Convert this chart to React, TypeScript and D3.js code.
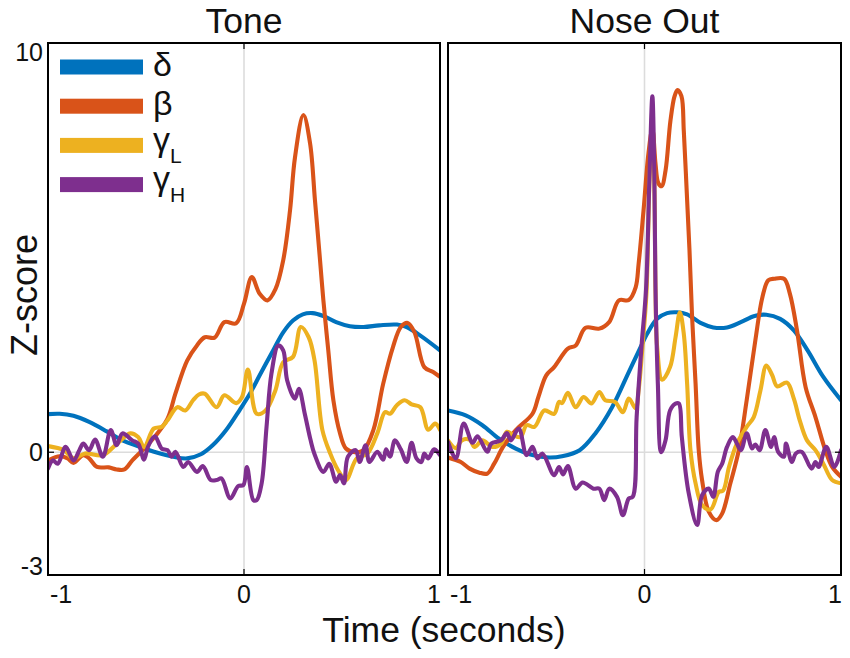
import React from "react";
import * as d3 from "d3";

type P = [number, number];

const toneDelta: P[] = [[-1,.93],[-.94,.94],[-.87,.89],[-.79,.74],[-.70,.51],[-.62,.29],[-.53,.13],[-.45,0],[-.36,-.11],[-.29,-.15],[-.22,-.05],[-.16,.17],[-.09,.55],[-.02,1.05],[.03,1.43],[.08,1.88],[.15,2.5],[.2,2.93],[.25,3.22],[.30,3.37],[.35,3.4],[.405,3.33],[.47,3.18],[.54,3.08],[.61,3.06],[.69,3.1],[.78,3.12],[.83,3.06],[.90,2.85],[1,2.49]];
const toneBeta: P[] = [[-1,-.2],[-.94,-.1],[-.9,-.15],[-.87,-.26],[-.82,-.07],[-.79,-.15],[-.75,-.36],[-.69,-.37],[-.65,-.42],[-.61,-.42],[-.57,-.2],[-.51,.09],[-.45,.41],[-.39,.82],[-.35,1.43],[-.29,2.24],[-.24,2.61],[-.2,2.81],[-.15,2.8],[-.1,3.18],[-.04,3.15],[0,3.63],[.04,4.28],[.08,3.87],[.12,3.71],[.16,3.98],[.2,4.69],[.235,5.92],[.26,7.2],[.303,8.24],[.337,7.55],[.362,6.16],[.388,4.69],[.405,3.71],[.43,2.49],[.456,1.27],[.49,.46],[.52,.09],[.566,0],[.61,.05],[.66,.54],[.71,1.67],[.76,2.57],[.80,3.06],[.835,3.16],[.87,2.93],[.92,2.08],[.965,1.96],[1,1.84]];
const toneGammaL: P[] = [[-1,.15],[-.92,.05],[-.87,-.15],[-.81,-.03],[-.72,-.07],[-.65,.2],[-.58,.46],[-.54,.37],[-.51,.13],[-.46,.58],[-.42,.62],[-.39,.78],[-.34,1.1],[-.30,1.02],[-.26,1.27],[-.23,1.41],[-.2,1.43],[-.14,1.1],[-.1,1.39],[-.04,1.2],[-.01,1.35],[.02,2.02],[.065,.94],[.11,1.02],[.16,1.51],[.2,2.2],[.25,2.33],[.29,3.06],[.33,2.81],[.36,2.24],[.40,.54],[.44,-.03],[.48,-.44],[.52,-.68],[.575,-.15],[.63,-.03],[.68,.46],[.72,.98],[.745,.94],[.78,1.15],[.82,1.27],[.855,1.17],[.9,1.1],[.94,.55],[.975,.7],[1,.55]];
const toneGammaH: P[] = [[-1,-.4],[-.975,-.2],[-.95,-.28],[-.91,.13],[-.87,-.2],[-.84,.05],[-.82,.21],[-.79,.05],[-.76,.31],[-.72,-.11],[-.68,.54],[-.65,.17],[-.62,.46],[-.57,.29],[-.54,.21],[-.51,-.18],[-.49,.13],[-.455,.39],[-.42,.09],[-.39,.05],[-.37,-.11],[-.35,.01],[-.31,-.36],[-.285,-.24],[-.24,-.48],[-.21,-.34],[-.17,-.68],[-.14,-.68],[-.115,-.64],[-.07,-1.13],[-.03,-.83],[-.003,-.8],[.015,-.36],[.048,-1.17],[.065,-1.17],[.09,-.76],[.115,.62],[.14,1.92],[.175,2.61],[.2,2.49],[.22,1.76],[.26,1.31],[.28,1.55],[.31,.94],[.34,.29],[.36,-.05],[.405,-.48],[.435,-.28],[.47,-.72],[.49,-.56],[.51,-.76],[.53,-.11],[.57,.05],[.59,-.24],[.62,.17],[.64,-.24],[.68,.01],[.71,-.18],[.725,.07],[.745,-.11],[.77,.29],[.8,.07],[.83,-.24],[.855,.23],[.88,-.15],[.905,-.24],[.92,-.03],[.94,-.15],[.97,.07],[1,-.07]];

const noseDelta: P[] = [[-1,1.02],[-.91,.9],[-.825,.66],[-.74,.33],[-.655,.09],[-.57,-.07],[-.486,-.13],[-.42,-.1],[-.33,.05],[-.25,.46],[-.165,1.1],[-.08,1.96],[-.012,2.65],[.014,2.9],[.064,3.26],[.115,3.4],[.166,3.42],[.217,3.37],[.285,3.16],[.35,3.05],[.42,3.05],[.49,3.18],[.56,3.33],[.62,3.36],[.69,3.26],[.76,2.98],[.83,2.49],[.91,1.84],[1,1.27]];
const noseBeta: P[] = [[-1,-.13],[-.935,-.24],[-.89,-.4],[-.84,-.5],[-.8,-.52],[-.765,-.28],[-.72,.13],[-.655,.54],[-.57,.94],[-.54,1.35],[-.5,1.88],[-.46,2.08],[-.39,2.53],[-.35,2.61],[-.3,3.04],[-.23,3.02],[-.18,3.18],[-.13,3.71],[-.08,3.72],[-.045,4.03],[-.03,4.6],[-.005,5.9],[.02,7.3],[.04,7.9],[.056,7.05],[.07,6.58],[.087,6.5],[.107,6.88],[.132,8.1],[.153,8.7],[.168,8.85],[.188,8.7],[.2,7.85],[.214,6.46],[.229,4.93],[.242,3.33],[.26,1.67],[.276,.05],[.293,-.68],[.327,-1.45],[.366,-1.66],[.395,-1.5],[.437,-.76],[.48,.05],[.52,1.27],[.564,2.73],[.6,3.79],[.63,4.2],[.66,4.24],[.71,4.24],[.74,3.87],[.776,2.98],[.82,1.59],[.87,.86],[.92,.05],[.955,-.36],[1,-.6]];
const noseGammaL: P[] = [[-1,.29],[-.96,.1],[-.93,.29],[-.89,.31],[-.865,.13],[-.825,.29],[-.775,.13],[-.73,.21],[-.7,.5],[-.665,.41],[-.63,.37],[-.6,.66],[-.56,.62],[-.51,1.02],[-.46,.94],[-.435,1.23],[-.42,1.2],[-.39,1.45],[-.35,1.1],[-.31,1.35],[-.27,1.19],[-.23,1.47],[-.2,1.27],[-.15,1.23],[-.11,.98],[-.08,1.31],[-.045,1.07],[-.03,1.51],[-.01,2.6],[.01,3.9],[.025,6.6],[.04,8],[.05,6.6],[.056,4],[.064,2.6],[.09,1.77],[.13,2.08],[.158,2.81],[.18,3.42],[.2,2.89],[.217,1.67],[.234,.05],[.26,-.76],[.293,-1.29],[.336,-1.4],[.378,-.97],[.4,-.94],[.43,-.36],[.47,.21],[.52,.62],[.556,.86],[.59,1.51],[.62,2.12],[.65,1.88],[.675,1.61],[.725,1.7],[.76,1.31],[.79,.78],[.827,.29],[.87,.05],[.91,-.28],[.955,-.68],[1,-.76]];
const noseGammaH: P[] = [[-1,.25],[-.96,-.15],[-.92,.7],[-.875,.23],[-.85,.39],[-.8,.01],[-.78,.21],[-.73,.29],[-.7,.47],[-.68,.29],[-.64,.58],[-.6,-.07],[-.57,.13],[-.545,-.15],[-.52,-.03],[-.46,-.56],[-.435,-.36],[-.415,-.54],[-.39,-.34],[-.35,-.89],[-.315,-.74],[-.26,-.89],[-.23,-.89],[-.205,-1.17],[-.18,-.89],[-.14,-1.09],[-.11,-1.54],[-.08,-1.13],[-.06,-1.09],[-.04,.86],[-.015,2.6],[.008,4],[.025,6.7],[.04,8.7],[.05,6.8],[.056,4],[.068,1.67],[.085,0],[.107,.29],[.13,1.02],[.158,1.19],[.175,1.19],[.19,.37],[.225,-1.0],[.268,-1.78],[.293,-1.05],[.327,-.89],[.35,-1.09],[.373,-.48],[.395,-.28],[.42,.13],[.45,.37],[.49,.05],[.52,.46],[.547,.09],[.564,.19],[.586,.05],[.615,.54],[.644,.13],[.66,.37],[.68,.01],[.71,-.11],[.72,.21],[.75,-.24],[.77,-.03],[.8,.01],[.85,-.4],[.87,-.24],[.886,-.36],[.925,.13],[.966,-.36],[1,.05]];

const panelTitles = ["Tone", "Nose Out"];
const xTicks = [-1, 0, 1];
const yTicks = [10, 0, -3];
const colors = ["#0072BD", "#D95319", "#EDB120", "#7E2F8E"];
const legendLabels: [string, string][] = [["δ", ""], ["β", ""], ["γ", "L"], ["γ", "H"]];
const legendBaselines = [76, 115, 151, 190];
const panels: P[][][] = [
  [toneDelta, toneBeta, toneGammaL, toneGammaH],
  [noseDelta, noseBeta, noseGammaL, noseGammaH],
];

const font = "'Liberation Sans', Arial, sans-serif";
const top = 43, bottom = 575;
const panelX: [number, number][] = [[48, 440], [448, 841]];
const y = d3.scaleLinear().domain([-3, 10]).range([bottom, top]);

function Panel({ idx }: { idx: number }) {
  const [x0, x1] = panelX[idx];
  const x = d3.scaleLinear().domain([-1, 1]).range([x0, x1]);
  const line = d3
    .line<P>()
    .x((d) => x(d[0]))
    .y((d) => y(d[1]))
    .curve(d3.curveCatmullRom.alpha(0.5));
  const clip = `clip${idx}`;
  return (
    <g>
      <clipPath id={clip}>
        <rect x={x0} y={top} width={x1 - x0} height={bottom - top} />
      </clipPath>
      <line x1={x(0)} x2={x(0)} y1={top} y2={bottom} stroke="#dcdcdc" strokeWidth={1.6} />
      <line x1={x0} x2={x1} y1={y(0)} y2={y(0)} stroke="#dcdcdc" strokeWidth={1.6} />
      <g clipPath={`url(#${clip})`} fill="none" strokeLinejoin="round" strokeLinecap="round">
        {panels[idx].map((s, i) => (
          <path key={i} d={line(s) ?? ""} stroke={colors[i]} strokeWidth={4.1} />
        ))}
      </g>
      <rect x={x0} y={top} width={x1 - x0} height={bottom - top} fill="none" stroke="#000" strokeWidth={2} />
      {xTicks.map((t) => (
        <g key={t} stroke="#000" strokeWidth={1.2}>
          <line x1={x(t)} x2={x(t)} y1={bottom} y2={bottom - 6} />
          <line x1={x(t)} x2={x(t)} y1={top} y2={top + 6} />
        </g>
      ))}
      {yTicks.map((t) => (
        <g key={t} stroke="#000" strokeWidth={1.2}>
          <line x1={x0} x2={x0 + 6} y1={y(t)} y2={y(t)} />
          <line x1={x1} x2={x1 - 6} y1={y(t)} y2={y(t)} />
        </g>
      ))}
      <text x={(x0 + x1) / 2} y={33} textAnchor="middle" fontSize={35.5} fontFamily={font} fill="#111">
        {panelTitles[idx]}
      </text>
      {xTicks.map((t) => (
        <text
          key={t}
          x={t === 1 ? x(t) - 6 : t === -1 ? x(t) + 13 : x(t)}
          y={603}
          textAnchor="middle"
          fontSize={25}
          fontFamily={font}
          fill="#111"
        >
          {t}
        </text>
      ))}
    </g>
  );
}

export default function App() {
  return (
    <svg
      width={850}
      height={658}
      viewBox="0 0 850 658"
      style={{ position: "absolute", left: 0, top: 0, background: "#fff" }}
    >
      {panelTitles.map((_, i) => (
        <Panel key={i} idx={i} />
      ))}
      {yTicks.map((t) => (
        <text
          key={t}
          x={43}
          y={t === 10 ? 61 : t === -3 ? 575 : y(t) + 9}
          textAnchor="end"
          fontSize={25}
          fontFamily={font}
          fill="#111"
        >
          {t}
        </text>
      ))}
      <text
        transform="translate(37,295) rotate(-90)"
        textAnchor="middle"
        fontSize={36}
        fontFamily={font}
        fill="#111"
      >
        Z-score
      </text>
      <text x={444} y={642} textAnchor="middle" fontSize={35.5} fontFamily={font} fill="#111">
        Time (seconds)
      </text>
      {legendLabels.map(([a, b], i) => {
        const ly = 67 + i * 39.2;
        return (
          <g key={i}>
            <rect x={60} y={ly - 7.5} width={83} height={15} fill={colors[i]} />
            <text x={153} y={legendBaselines[i]} fontSize={34} fontFamily={font} fill="#111">
              {a}
              {b && (
                <tspan fontSize={21} dy={12}>
                  {b}
                </tspan>
              )}
            </text>
          </g>
        );
      })}
    </svg>
  );
}
